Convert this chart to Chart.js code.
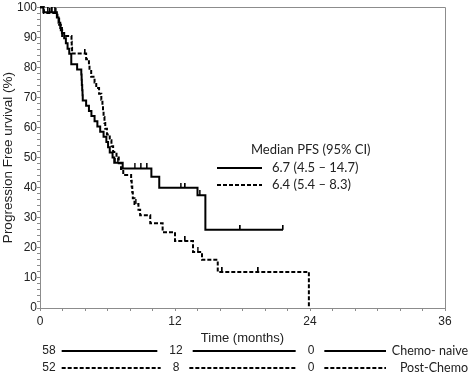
<!DOCTYPE html>
<html><head><meta charset="utf-8">
<script src="https://cdn.jsdelivr.net/npm/chart.js@4/dist/chart.umd.min.js"></script>
<style>html,body{margin:0;padding:0;background:#fff;}#wrap{width:472px;height:375px;position:relative;}</style>
</head><body><div id="wrap"><canvas id="c" width="472" height="375"></canvas></div>
<script>
// Chemo-naive (solid) Kaplan-Meier steps: time (months), survival (%)
const naiveTimes = [0, 0.3, 1.5, 1.65, 1.8, 1.95, 2.15, 2.3, 2.45, 2.6, 2.78, 3.3, 3.67, 3.7, 3.72, 3.75, 3.78, 3.8, 4.1, 4.35, 4.57, 4.85, 5.1, 5.35, 5.65, 5.9, 6.05, 6.2, 6.45, 6.6, 7.35, 9.9, 10.6, 14.0, 14.7, 21.6];
const naiveSurv  = [100, 98.3, 96.6, 94.8, 93.1, 91.4, 89.7, 88.0, 86.2, 84.5, 81.0, 79.3, 77.6, 75.9, 74.1, 72.4, 70.7, 69.0, 67.2, 65.5, 63.8, 62.1, 60.3, 58.6, 56.9, 55.2, 53.4, 51.7, 50.0, 48.3, 46.4, 43.6, 40.0, 37.5, 26.0, 26.0];
const naiveCensorTimes = [0.7, 1.1, 1.3, 6.7, 6.9, 8.4, 8.95, 9.5, 12.5, 12.9, 14.2, 17.8, 21.6];
const naiveCensorSurv  = [98.3, 98.3, 98.3, 48.3, 48.3, 46.4, 46.4, 46.4, 40.0, 40.0, 37.5, 26.0, 26.0];

// Post-Chemo (dashed)
const postTimes = [0, 0.35, 1.55, 1.7, 1.85, 1.97, 2.8, 2.82, 2.85, 4.1, 4.35, 4.4, 4.55, 4.85, 5.0, 5.25, 5.45, 5.55, 5.6, 5.65, 5.73, 5.8, 5.95, 6.2, 6.35, 6.5, 6.8, 7.0, 7.2, 7.4, 8.1, 8.15, 8.2, 8.25, 8.4, 8.75, 8.9, 9.8, 10.9, 12.0, 13.6, 14.4, 15.8, 23.9];
const postSurv  = [100, 98.1, 96.2, 94.2, 92.3, 90.4, 88.5, 86.5, 84.6, 82.7, 80.8, 78.8, 76.9, 75.0, 73.1, 71.2, 69.2, 67.3, 65.4, 63.5, 61.5, 59.6, 57.7, 55.8, 53.8, 51.9, 50.0, 48.1, 46.2, 44.2, 42.3, 40.4, 38.5, 36.5, 34.6, 32.7, 30.8, 28.2, 25.2, 22.3, 18.6, 16.0, 12.0, 0];
const postCensorTimes = [0.9, 1.4, 4.0, 8.5, 12.9, 14.0, 16.2, 19.4];
const postCensorSurv  = [98.1, 98.1, 84.6, 34.6, 22.3, 18.6, 12.0, 12.0];

// Numbers at risk
const riskTimes = [0, 12, 24];
const riskNaive = [58, 12, 0];
const riskPost  = [52, 8, 0];
const groupLabels = ['Chemo- naive', 'Post-Chemo'];

// Legend
const legendTitle = 'Median PFS (95% CI)';
const medianLabels = ['6.7 (4.5 \u2013 14.7)', '6.4 (5.4 \u2013 8.3)'];

const xLabelEvery = 12;
const yLabelEvery = 10;

const DASH = [4, 2];
const ARIAL = '"Liberation Sans", Arial, sans-serif';
const CAL = 'Lato, "Open Sans", sans-serif';

function pts(ts, ss){ return ts.map((t,i)=>({x:t, y:ss[i]})); }

const tick = document.createElement('canvas');
tick.width = 2; tick.height = 10;
(function(){ const g = tick.getContext('2d'); g.fillStyle = '#000'; g.fillRect(0,0,1.6,5); })();

const frame = {
  id: 'frame',
  beforeDatasetsDraw(chart){
    const {ctx, chartArea: ca} = chart;
    ctx.save();
    ctx.strokeStyle = '#8c8c8c'; ctx.lineWidth = 1;
    ctx.beginPath();
    ctx.moveTo(ca.left, Math.round(ca.top)+0.5);
    ctx.lineTo(Math.round(ca.right)+0.5, Math.round(ca.top)+0.5);
    ctx.lineTo(Math.round(ca.right)+0.5, ca.bottom);
    ctx.stroke();
    ctx.restore();
  },
  afterDraw(chart){
    const {ctx, scales:{x}} = chart;
    ctx.save();
    ctx.fillStyle = '#222';
    ctx.strokeStyle = '#000';
    // legend
    ctx.font = '13px ' + CAL;
    ctx.textBaseline = 'middle';
    ctx.textAlign = 'left';
    ctx.fillText(legendTitle, 251, 150);
    const ly = [168, 185];
    ly.forEach((yy, i) => {
      ctx.lineWidth = 2;
      ctx.setLineDash(i === 0 ? [] : DASH);
      ctx.beginPath(); ctx.moveTo(217, yy); ctx.lineTo(262, yy); ctx.stroke();
      ctx.fillText(medianLabels[i], 272, yy);
    });
    // risk table
    const rows = [riskNaive, riskPost];
    const rowY = [351, 368];
    rows.forEach((row, r) => {
      const yy = rowY[r];
      ctx.font = '12px ' + ARIAL;
      ctx.textAlign = 'center';
      const xs = riskTimes.map((t, i) => x.getPixelForValue(t) + (i === 0 ? 9 : 1));
      const ws = row.map(v => ctx.measureText(String(v)).width);
      row.forEach((v, i) => ctx.fillText(String(v), xs[i], yy));
      ctx.lineWidth = 2;
      ctx.setLineDash(r === 0 ? [] : DASH);
      for (let i = 0; i < row.length; i++) {
        const s = xs[i] + ws[i]/2 + (i === 0 ? 6 : 10);
        const e = i < row.length - 1 ? xs[i+1] - ws[i+1]/2 - 12 : 386;
        ctx.beginPath(); ctx.moveTo(s, yy); ctx.lineTo(e, yy); ctx.stroke();
      }
      ctx.setLineDash([]);
      ctx.font = '12.5px ' + CAL;
      ctx.textAlign = 'right';
      ctx.fillText(groupLabels[r], 468, yy);
    });
    ctx.restore();
  }
};

new Chart(document.getElementById('c'), {
  type: 'scatter',
  data: {
    datasets: [
      {data: pts(naiveTimes, naiveSurv), showLine: true, stepped: true, borderColor: '#000', borderWidth: 2, pointRadius: 0, fill: false, clip: false},
      {data: pts(postTimes, postSurv), showLine: true, stepped: true, borderColor: '#000', borderWidth: 2, borderDash: DASH, pointRadius: 0, fill: false, clip: false},
      {data: pts(naiveCensorTimes, naiveCensorSurv), showLine: false, pointStyle: tick, pointRadius: 5, clip: false},
      {data: pts(postCensorTimes, postCensorSurv), showLine: false, pointStyle: tick, pointRadius: 5, clip: false}
    ]
  },
  options: {
    responsive: false,
    animation: false,
    devicePixelRatio: 1,
    layout: {padding: {left: 0, right: 27, top: 7, bottom: 27}},
    plugins: {legend: {display: false}, tooltip: {enabled: false}},
    scales: {
      x: {
        type: 'linear', min: 0, max: 36,
        afterFit: s => { s.height = 40; },
        ticks: {stepSize: 2, autoSkip: false, maxRotation: 0, padding: 3, color: '#222',
          font: {family: ARIAL, size: 12},
          callback: v => (v % xLabelEvery === 0 ? String(v) : '')},
        grid: {drawOnChartArea: false, drawTicks: true, tickLength: 3, color: '#8c8c8c'},
        border: {color: '#8c8c8c', width: 1},
        title: {display: true, text: 'Time (months)', color: '#222', font: {family: ARIAL, size: 13}, padding: {top: 0, bottom: 2}}
      },
      y: {
        type: 'linear', min: 0, max: 100,
        afterFit: s => { s.width = 40; },
        ticks: {stepSize: 2, autoSkip: false, padding: 0, color: '#222',
          font: {family: ARIAL, size: 12},
          callback: v => (v % yLabelEvery === 0 ? String(v) : '')},
        grid: {drawOnChartArea: false, drawTicks: true, tickLength: 3, color: '#8c8c8c'},
        border: {color: '#8c8c8c', width: 1},
        title: {display: true, text: 'Progression Free urvival (%)', color: '#222', font: {family: ARIAL, size: 13.5}, padding: 0}
      }
    }
  },
  plugins: [frame]
});
</script>
</body></html>
